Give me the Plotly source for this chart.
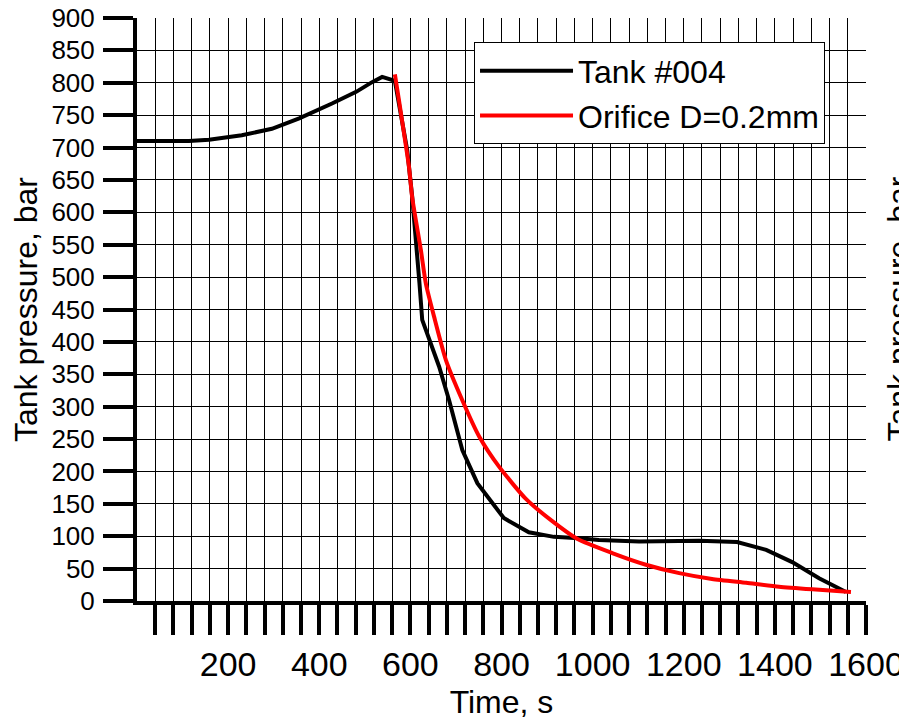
import plotly.graph_objects as go

# ---- data ----
tank_time = [0, 114, 158, 230, 296, 356, 428, 481, 516, 538, 566, 593, 604, 615,
             620, 626, 641, 663, 685, 714, 747, 772, 805, 860, 915, 970, 1014,
             1102, 1234, 1317, 1381, 1438, 1497, 1556]
tank_pressure = [710, 710, 712, 719, 729, 745, 768, 786, 801, 809, 803, 696, 624, 542,
                 490, 434, 403, 362, 310, 233, 182, 158, 128, 106, 99, 97, 94,
                 92, 93, 91, 79, 60, 35, 14]

orifice_time = [566, 575, 586, 597, 604, 623, 634, 652, 678, 714, 751, 795, 853,
                910, 966, 1043, 1117, 1190, 1262, 1337, 1409, 1482, 1567]
orifice_pressure = [813, 773, 722, 670, 623, 542, 490, 439, 372, 310, 254, 207, 158,
                    124, 96, 74, 56, 43, 34, 28, 22, 18, 14]

series_names = ["Tank #004", "Orifice D=0.2mm"]
x_minor_step = 40
x_max = 1600
x_tick_labels = ["200", "400", "600", "800", "1000", "1200", "1400", "1600"]
y_tick_values = list(range(0, 901, 50))

x_tick_values = list(range(x_minor_step, x_max + 1, x_minor_step))
x_tick_text = [str(v) if str(v) in x_tick_labels else "" for v in x_tick_values]

FONT = "Liberation Sans, Arial, sans-serif"

fig = go.Figure()
fig.add_trace(go.Scatter(x=tank_time, y=tank_pressure, mode="lines",
                         name=series_names[0],
                         line=dict(color="black", width=4)))
fig.add_trace(go.Scatter(x=orifice_time, y=orifice_pressure, mode="lines",
                         name=series_names[1],
                         line=dict(color="#ff0000", width=4, shape="spline", smoothing=0.6)))

fig.update_layout(
    width=899, height=714,
    margin=dict(l=129, r=41, t=10, b=121, autoexpand=False),
    paper_bgcolor="white", plot_bgcolor="white",
    font=dict(family=FONT, color="black"),
    showlegend=True,
    legend=dict(x=0.4623, y=0.958, xanchor="left", yanchor="top",
                bgcolor="white", bordercolor="black", borderwidth=1,
                font=dict(size=32, family=FONT, color="black"),
                itemwidth=93),
    xaxis=dict(range=[0, x_max], tickmode="array", tickvals=x_tick_values,
               ticktext=x_tick_text, ticks="outside", ticklen=30, tickwidth=3.5,
               tickcolor="black", showline=True, linewidth=4, linecolor="black",
               showgrid=True, gridcolor="black", gridwidth=1, zeroline=False,
               automargin=False, ticklabeloverflow="allow",
               tickfont=dict(size=34, family=FONT, color="black"),
               title=dict(text="Time, s", font=dict(size=32, family=FONT, color="black"),
                          standoff=10)),
    yaxis=dict(range=[0, 900], tickmode="array", tickvals=y_tick_values,
               ticks="outside", ticklen=30, tickwidth=3.5,
               tickcolor="black", showline=True, linewidth=4, linecolor="black",
               showgrid=True, gridcolor="black", gridwidth=1, zeroline=False,
               automargin=False, ticklabelstandoff=3, ticklabeloverflow="allow",
               tickfont=dict(size=26, family=FONT, color="black"),
               title=dict(text="Tank pressure, bar", font=dict(size=32, family=FONT, color="black"),
                          standoff=5)),
    annotations=[dict(text="Tank pressure, bar", xref="paper", yref="paper",
                      x=1.044, y=0.5, xanchor="center", yanchor="middle",
                      textangle=-90, showarrow=False,
                      font=dict(size=32, family=FONT, color="black"))],
)

fig.write_html("out.html")
